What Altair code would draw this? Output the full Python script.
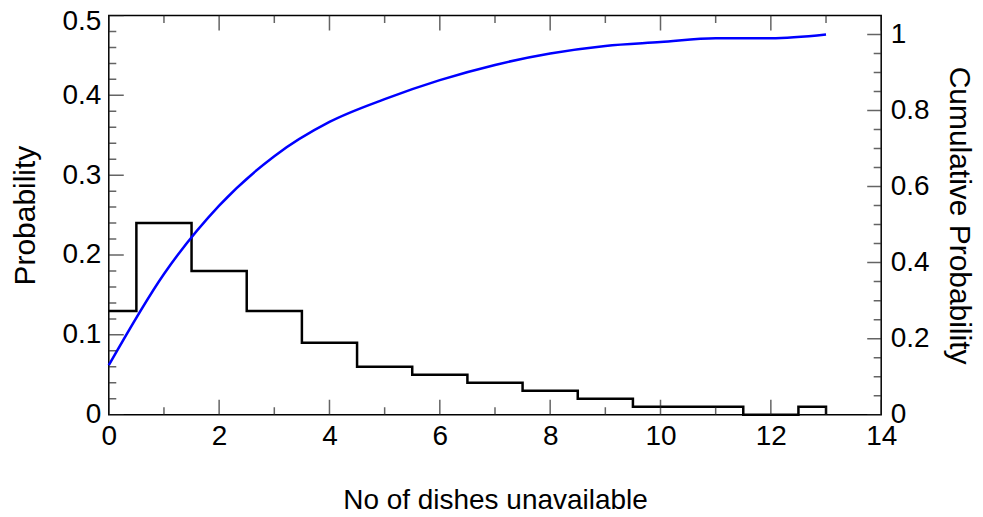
import altair as alt
import pandas as pd

# ---- data ----
dishes = [0, 1, 2, 3, 4, 5, 6, 7, 8, 9, 10, 11, 12, 13]
probability = [0.13, 0.24, 0.18, 0.13, 0.09, 0.06, 0.05, 0.04, 0.03, 0.02, 0.01, 0.01, 0.00, 0.01]
cumulative = [0.13, 0.37, 0.55, 0.68, 0.77, 0.83, 0.88, 0.92, 0.95, 0.97, 0.98, 0.99, 0.99, 1.00]

x_major = [0, 2, 4, 6, 8, 10, 12, 14]
x_minor = [1, 3, 5, 7, 9, 11, 13]
left_major = [0, 0.1, 0.2, 0.3, 0.4, 0.5]
left_minor = [0.02, 0.04, 0.06, 0.08, 0.12, 0.14, 0.16, 0.18, 0.22, 0.24, 0.26, 0.28,
              0.32, 0.34, 0.36, 0.38, 0.42, 0.44, 0.46, 0.48]
right_major = [0, 0.2, 0.4, 0.6, 0.8, 1.0]
right_minor = [0.05, 0.1, 0.15, 0.25, 0.3, 0.35, 0.45, 0.5, 0.55, 0.65, 0.7, 0.75,
               0.85, 0.9, 0.95]

X_DOMAIN = [0, 14]
LEFT_DOMAIN = [0, 0.5]
RIGHT_DOMAIN = [0, 1.05]

FONT = "Liberation Sans"

# step outline: bars of width 1 centred on each count, clipped at 0
step_x = [max(d - 0.5, 0) for d in dishes] + [dishes[-1]]
step_y = probability + [0]
step_df = pd.DataFrame({"x": step_x, "p": step_y})
cum_df = pd.DataFrame({"x": dishes, "c": cumulative})

xs = alt.Scale(domain=X_DOMAIN, nice=False, zero=False)
ls = alt.Scale(domain=LEFT_DOMAIN, nice=False)
rs = alt.Scale(domain=RIGHT_DOMAIN, nice=False)

x_axis = alt.Axis(values=x_major, format="~g", ticks=False, domain=False, grid=False,
                  labelPadding=8, labelFlush=False, title="No of dishes unavailable",
                  titlePadding=36, titleFontSize=28)
left_axis = alt.Axis(values=left_major, format="~g", ticks=False, domain=False, grid=False,
                     labelPadding=8, title="Probability", titlePadding=22, orient="left",
                     titleFontSize=30,
                     labelOffset={"condition": {"test": "datum.value >= 0.5", "value": 6},
                                  "value": 0})
right_axis = alt.Axis(values=right_major, format="~g", ticks=False, domain=False, grid=False,
                      labelPadding=9, title="Cumulative Probability", titlePadding=15,
                      orient="right", titleFontSize=30)

step = alt.Chart(step_df).mark_line(interpolate="step-after", color="black",
                                    strokeWidth=2.5).encode(
    x=alt.X("x:Q", scale=xs, axis=x_axis),
    y=alt.Y("p:Q", scale=ls, axis=left_axis),
)

curve = alt.Chart(cum_df).mark_line(interpolate="monotone", color="#0000ff",
                                    strokeWidth=2.5).encode(
    x=alt.X("x:Q", scale=xs, axis=x_axis),
    y=alt.Y("c:Q", scale=rs, axis=right_axis),
)


def vticks(values, at, size):
    df = pd.DataFrame({"v": values})
    return alt.Chart(df).mark_tick(orient="vertical", size=size, thickness=1.5,
                                   color="#222222", clip=True).encode(
        x=alt.X("v:Q", scale=xs, axis=x_axis),
        y=alt.YDatum(at, scale=ls, axis=None),
    )


def hticks(values, scale, at, size):
    df = pd.DataFrame({"v": values})
    return alt.Chart(df).mark_tick(orient="horizontal", size=size, thickness=1.5,
                                   color="#222222", clip=True).encode(
        y=alt.Y("v:Q", scale=scale, axis=None),
        x=alt.XDatum(at, scale=xs, axis=x_axis),
    )


tick_layers = [
    vticks(x_major, 0, 30), vticks(x_minor, 0, 15),
    vticks(x_major, 0.5, 30), vticks(x_minor, 0.5, 15),
    hticks(left_major, ls, 0, 30), hticks(left_minor, ls, 0, 15),
    hticks(right_major, rs, 14, 28), hticks(right_minor, rs, 14, 15),
]

chart = alt.layer(step, curve, *tick_layers).resolve_scale(
    y="independent"
).properties(
    width=774,
    height=400,
    autosize=alt.AutoSizeParams(type="none"),
    padding={"left": 101, "top": 7, "right": 94, "bottom": 96},
).configure_view(
    stroke="black", strokeWidth=1.5
).configure_axis(
    labelFont=FONT, titleFont=FONT, labelFontSize=28, titleFontSize=28,
    labelColor="black", titleColor="black", titleFontWeight="normal",
)

chart.save("out.html", embed_options={"renderer": "svg", "actions": False})
